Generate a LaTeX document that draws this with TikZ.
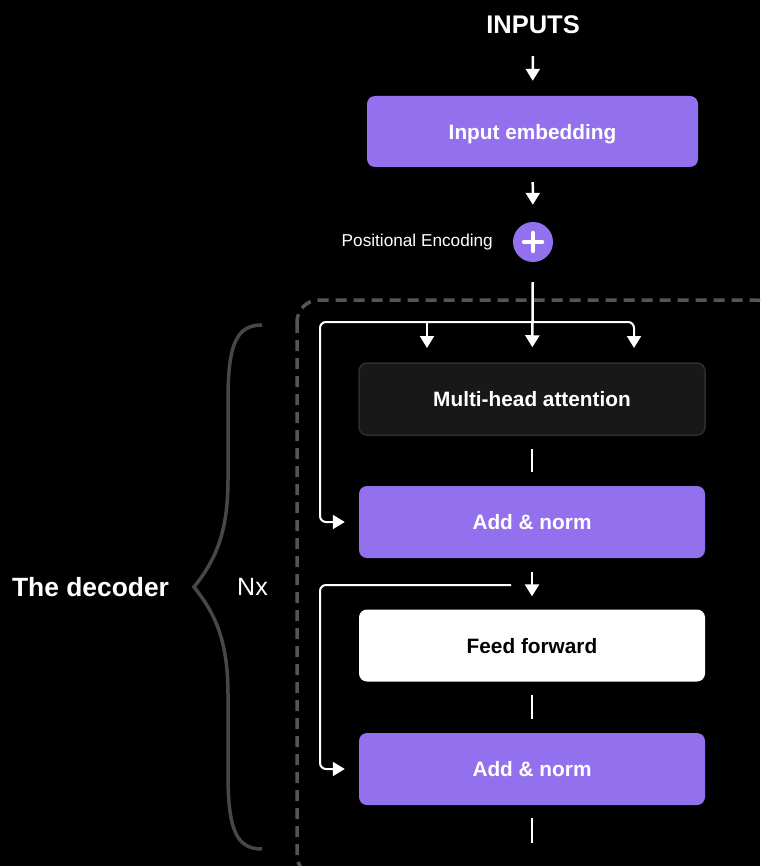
\documentclass[tikz,border=0pt]{standalone}
\usepackage{fontspec}
\setmainfont{Liberation Sans}
\usetikzlibrary{arrows.meta}
\definecolor{purp}{HTML}{9371EE}
\definecolor{mhafill}{HTML}{181818}
\definecolor{mhaline}{HTML}{2E2E2E}
\definecolor{dashgray}{HTML}{555555}
\definecolor{bracegray}{HTML}{474747}
\begin{document}
\begin{tikzpicture}[x=1pt,y=-1pt,
  box/.style={rounded corners=8pt, minimum width=346pt, minimum height=72pt, inner sep=0pt, text depth=0pt, font=\fontsize{20.8}{24}\selectfont\bfseries},
  purplebox/.style={box, fill=purp, text=white},
  mhabox/.style={box, fill=mhafill, draw=mhaline, line width=1.5pt, text=white},
  whitebox/.style={box, fill=white, text=black},
  flow/.style={draw=white, line width=2.5pt, -{Triangle[length=12pt,width=14pt]}},
  plain/.style={draw=white, line width=2.5pt},
  resid/.style={draw=white, line width=2pt, rounded corners=6pt, -{Triangle[length=12pt,width=14pt]}},
  label/.style={text=white, inner sep=0pt},
]
\fill[black] (0,0) rectangle (760,866);
\useasboundingbox (0,0) rectangle (760,866);

% dashed decoder frame
\begin{scope}
\clip (0,0) rectangle (760,866);
\draw[dashgray, line width=3.5pt, dash pattern=on 11pt off 7pt, rounded corners=22pt] (297,300) rectangle (778,877);
\end{scope}

% brace
\draw[bracegray, line width=3.5pt] (262,325) .. controls (236,325) and (228,345) .. (228,400) -- (228,480) .. controls (228,535) and (214,562) .. (194,587) .. controls (214,612) and (228,639) .. (228,694) -- (228,774) .. controls (228,829) and (236,849) .. (262,849);

\node[label, font=\fontsize{26.4}{30}\selectfont\bfseries] (dec) at (90.5,587) {The decoder};
\node[label, font=\fontsize{25}{28}\selectfont] (nx) at (252.5,587) {Nx};

\node[label, font=\fontsize{25.5}{29}\selectfont\bfseries] (inputs) at (533,25) {INPUTS};
\node[purplebox, minimum width=331pt, minimum height=71pt] (embed) at (532.5,131.5) {Input embedding};
\node[circle, fill=purp, minimum size=40pt, inner sep=0pt] (plus) at (533,242) {};
\draw[white, line width=4.5pt, line cap=round] (524,242) -- (542,242) (533,233) -- (533,251);
\node[label, anchor=east, font=\fontsize{17.2}{20}\selectfont] (pe) at (493,242) {Positional Encoding};

\node[mhabox] (mha) at (532,399) {Multi-head attention};
\node[purplebox] (add1) at (532,522) {Add \& norm};
\node[whitebox] (ff) at (532,645.5) {Feed forward};
\node[purplebox] (add2) at (532,769) {Add \& norm};

\coordinate (split) at (533,322);
\coordinate (kbr) at (427,322);
\coordinate (ktip) at (427,348);
\coordinate (vtip) at (634,348);
\coordinate (r2) at (511,585);
\coordinate (outend) at (532,843);

\draw[flow, shorten <=22pt, shorten >=15pt] (inputs) -- (embed);
\draw[flow, shorten <=15pt, shorten >=17pt] (embed) -- (plus);
\draw[flow, shorten <=20pt, shorten >=15pt] (plus) -- (mha);
\draw[resid, shorten >=14pt] (split) -- (320,322) |- (add1.west);
\draw[resid] (split) -| (vtip);
\draw[flow, line width=2pt] (kbr) -- (ktip);
\draw[plain, shorten <=13pt, shorten >=14pt] (mha) -- (add1);
\draw[flow, shorten <=14pt, shorten >=13pt] (add1) -- (ff);
\draw[resid, shorten >=14pt] (r2) -- (320,585) |- (add2.west);
\draw[plain, shorten <=13pt, shorten >=14pt] (ff) -- (add2);
\draw[plain, shorten <=13pt] (add2) -- (outend);
\end{tikzpicture}
\end{document}
